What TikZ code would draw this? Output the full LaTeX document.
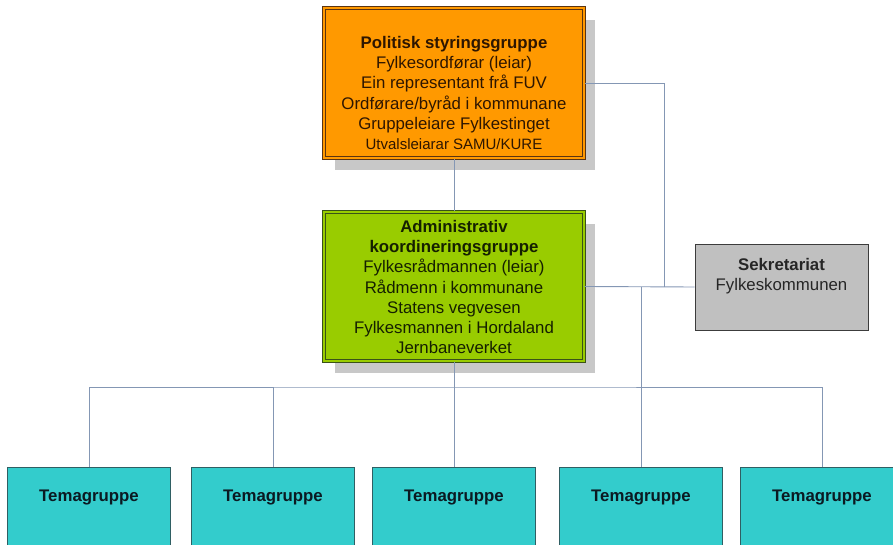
\documentclass[tikz,border=0pt]{standalone}
\usepackage{fontspec}
\setmainfont{Liberation Sans}
\usetikzlibrary{shadows}
\definecolor{orangefill}{HTML}{FF9900}
\definecolor{orangeborder}{HTML}{5A3412}
\definecolor{orangetext}{HTML}{2E1600}
\definecolor{greenfill}{HTML}{99CC00}
\definecolor{greenborder}{HTML}{3A5218}
\definecolor{greentext}{HTML}{152000}
\definecolor{temafill}{HTML}{33CCCC}
\definecolor{temaborder}{HTML}{2F5F63}
\definecolor{tematext}{HTML}{0B1A22}
\definecolor{sekfill}{HTML}{C0C0C0}
\definecolor{sekborder}{HTML}{3C3C3C}
\definecolor{shadowgray}{HTML}{C8C8C8}
\definecolor{linecol}{HTML}{8497B4}
\begin{document}
\begin{tikzpicture}[x=1pt,y=-1pt,
  conn/.style={draw=linecol, line width=0.9pt},
  bigbox/.style={rectangle, minimum width=260pt, inner sep=0pt, line width=1.1pt,
    double distance=1.6pt,
    drop shadow={shadow xshift=11pt, shadow yshift=-12pt, fill=shadowgray, opacity=1}},
  temabox/.style={rectangle, draw=temaborder, fill=temafill, line width=0.8pt,
    minimum width=163pt, minimum height=100pt, inner sep=0pt},
  txt/.style={inner sep=0pt, align=center, font=\fontsize{16.8}{20.2}\selectfont},
  tematxt/.style={txt, text=tematext, font=\fontsize{16.8}{20.2}\selectfont\bfseries}]
\clip (0,0) rectangle (893,545);

% main boxes
\node[bigbox, draw=orangeborder, double=orangefill, fill=orangefill, minimum height=150pt] (pol) at (454,83) {};
\node[txt, text=orangetext] (poltxt) at (454,93) {\textbf{Politisk styringsgruppe}\\
Fylkesordførar (leiar)\\Ein representant frå FUV\\Ordførare/byråd i kommunane\\
Gruppeleiare Fylkestinget\\{\fontsize{15}{20.2}\selectfont Utvalsleiarar SAMU/KURE}};

\node[bigbox, draw=greenborder, double=greenfill, fill=greenfill, minimum height=149pt] (adm) at (454,286.5) {};
\node[txt, text=greentext] (admtxt) at (454,287) {\textbf{Administrativ}\\\textbf{koordineringsgruppe}\\
Fylkesrådmannen (leiar)\\Rådmenn i kommunane\\Statens vegvesen\\
Fylkesmannen i Hordaland\\Jernbaneverket};

\node[rectangle, draw=sekborder, fill=sekfill, line width=0.8pt, minimum width=173pt,
  minimum height=86pt, inner sep=0pt] (sek) at (781.5,287) {};
\node[txt, text=black!85] (sektxt) at (781.5,276.5) {\textbf{Sekretariat}\\Fylkeskommunen};

% theme groups
\foreach \i/\x in {1/89, 2/273, 3/454, 4/641, 5/822}{
  \node[temabox] (t\i) at (\x,517) {};
  \node[tematxt] (tt\i) at (\x,497) {Temagruppe};
}

% connectors
\coordinate (bus) at (454,387);
\coordinate (oj) at (664,287);
\coordinate (sj) at (641,287);
\draw[conn] (pol.south) -- (adm.north);
\draw[conn] (pol.east) -| (oj);
\draw[conn] (adm.east) -- (sek.west);
\draw[conn] (sj) -- (t4.north);
\draw[conn] (adm.south) -- (t3.north);
\draw[conn] (t1.north) |- (bus) -| (t5.north);
\draw[conn] (t2.north) -- (t2.north |- bus);
\end{tikzpicture}
\end{document}
